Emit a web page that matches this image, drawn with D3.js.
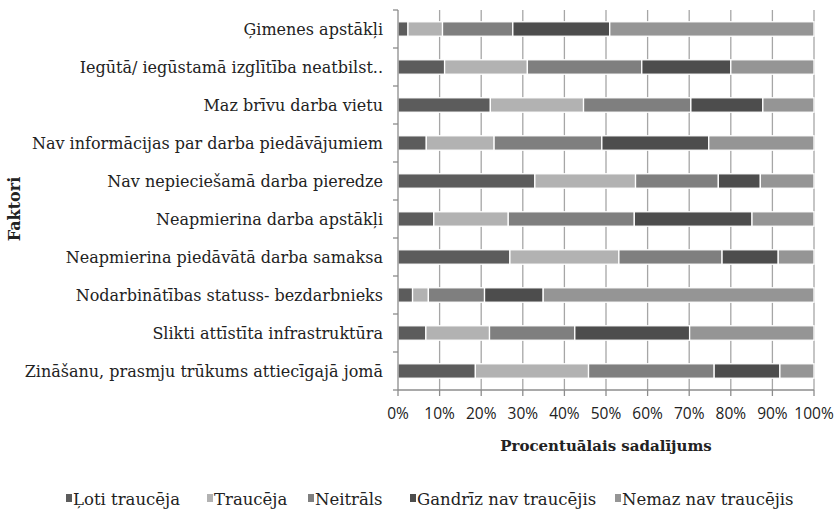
<!DOCTYPE html>
<html>
<head>
<meta charset="utf-8">
<script src="https://cdn.jsdelivr.net/npm/d3@7"></script>
<style>
  body { margin: 0; background: #fff; }
  svg { display: block; }
</style>
</head>
<body>
<svg width="839" height="510"></svg>
<script>
// categories, top to bottom
var factors = [
  "Ģimenes apstākļi",
  "Iegūtā/ iegūstamā izglītība neatbilst..",
  "Maz brīvu darba vietu",
  "Nav informācijas par darba piedāvājumiem",
  "Nav nepieciešamā darba pieredze",
  "Neapmierina darba apstākļi",
  "Neapmierina piedāvātā darba samaksa",
  "Nodarbinātības statuss- bezdarbnieks",
  "Slikti attīstīta infrastruktūra",
  "Zināšanu, prasmju trūkums attiecīgajā jomā"
];

var seriesNames = ["Ļoti traucēja", "Traucēja", "Neitrāls", "Gandrīz nav traucējis", "Nemaz nav traucējis"];
var seriesColors = ["#5c5c5c", "#b2b2b2", "#7f7f7f", "#4d4d4d", "#959595"];

// percent per factor, same order as factors
var lotiTrauceja   = [2.4, 11.2, 22.2, 6.8, 32.9, 8.6, 26.9, 3.5, 6.7, 18.6];
var trauceja       = [8.3, 19.9, 22.4, 16.3, 24.2, 17.9, 26.2, 3.8, 15.3, 27.2];
var neitrals       = [16.9, 27.5, 25.8, 25.9, 19.9, 30.3, 24.8, 13.5, 20.5, 30.2];
var gandrizNav     = [23.3, 21.4, 17.3, 25.7, 10.1, 28.3, 13.5, 14.1, 27.6, 15.8];
var nemazNav       = [49.1, 20.0, 12.3, 25.3, 12.9, 14.9, 8.6, 65.1, 29.9, 8.2];

var xTicks = [0, 10, 20, 30, 40, 50, 60, 70, 80, 90, 100];

var svg = d3.select("svg");
var mLeft = 398, mRight = 814, mTop = 10, mBottom = 390;
var serif = "'DejaVu Serif', 'Liberation Serif', serif";

var rows = factors.map(function(f, i) {
  var vals = [lotiTrauceja[i], trauceja[i], neitrals[i], gandrizNav[i], nemazNav[i]];
  var tot = d3.sum(vals);
  var o = { factor: f };
  vals.forEach(function(v, j) { o["s" + j] = v / tot * 100; });
  return o;
});

var keys = seriesNames.map(function(d, j) { return "s" + j; });
var stacked = d3.stack().keys(keys)(rows);

var x = d3.scaleLinear().domain([0, 100]).range([mLeft, mRight]);
var y = d3.scaleBand().domain(factors).range([mTop, mBottom]).paddingInner(0.62).paddingOuter(0.31);
var yb = d3.scaleBand().domain(factors).range([mTop, mBottom]);

// gridlines
svg.append("g")
  .selectAll("line")
  .data(xTicks.slice(1))
  .enter().append("line")
  .attr("x1", function(d) { return x(d); })
  .attr("x2", function(d) { return x(d); })
  .attr("y1", mTop)
  .attr("y2", mBottom)
  .attr("stroke", "#a6a6a6")
  .attr("stroke-width", 1.3);

// bars
svg.append("g")
  .selectAll("g")
  .data(stacked)
  .enter().append("g")
  .attr("fill", function(d, i) { return seriesColors[i]; })
  .selectAll("rect")
  .data(function(d) { return d; })
  .enter().append("rect")
  .attr("x", function(d) { return x(d[0]); })
  .attr("y", function(d) { return y(d.data.factor); })
  .attr("width", function(d) { return x(d[1]) - x(d[0]); })
  .attr("height", y.bandwidth())
  .attr("stroke", "#fff")
  .attr("stroke-width", 1.3);

// left axis
var yAxis = svg.append("g").attr("transform", "translate(" + mLeft + ",0)");
yAxis.append("line").attr("y1", mTop).attr("y2", mBottom).attr("stroke", "#8c8c8c").attr("stroke-width", 1.3);
yAxis.selectAll(".tk")
  .data(factors.concat(["end"]))
  .enter().append("line")
  .attr("x1", -5).attr("x2", 0)
  .attr("y1", function(d, i) { return mTop + i * yb.bandwidth(); })
  .attr("y2", function(d, i) { return mTop + i * yb.bandwidth(); })
  .attr("stroke", "#8c8c8c").attr("stroke-width", 1.3);
yAxis.selectAll("text")
  .data(factors)
  .enter().append("text")
  .attr("x", -15)
  .attr("y", function(d) { return yb(d) + yb.bandwidth() / 2; })
  .attr("dy", "0.35em")
  .attr("text-anchor", "end")
  .attr("font-family", serif)
  .attr("font-size", "16px")
  .attr("fill", "#222")
  .text(function(d) { return d; });

// bottom axis
var xAxis = svg.append("g").attr("transform", "translate(0," + mBottom + ")");
xAxis.append("line").attr("x1", mLeft).attr("x2", mRight).attr("stroke", "#8c8c8c").attr("stroke-width", 1.3);
xAxis.selectAll(".tk")
  .data(xTicks)
  .enter().append("line")
  .attr("x1", function(d) { return x(d); }).attr("x2", function(d) { return x(d); })
  .attr("y1", 0).attr("y2", 6)
  .attr("stroke", "#8c8c8c").attr("stroke-width", 1.3);
xAxis.selectAll("text")
  .data(xTicks)
  .enter().append("text")
  .attr("x", function(d) { return x(d); })
  .attr("y", 29)
  .attr("text-anchor", "middle")
  .attr("font-family", "'Open Sans', 'DejaVu Sans', sans-serif")
  .attr("font-size", "15.5px")
  .attr("fill", "#222")
  .text(function(d) { return d + "%"; });

// axis titles
svg.append("text")
  .attr("x", (mLeft + mRight) / 2)
  .attr("y", 451)
  .attr("text-anchor", "middle")
  .attr("font-family", serif)
  .attr("font-weight", "bold")
  .attr("font-size", "15px")
  .attr("fill", "#222")
  .text("Procentuālais sadalījums");

svg.append("text")
  .attr("transform", "translate(20,209) rotate(-90)")
  .attr("text-anchor", "middle")
  .attr("font-family", serif)
  .attr("font-weight", "bold")
  .attr("font-size", "16px")
  .attr("fill", "#222")
  .text("Faktori");

// legend
var legendX = [66, 207, 308, 410, 615];
var lg = svg.append("g")
  .selectAll("g")
  .data(seriesNames)
  .enter().append("g")
  .attr("transform", function(d, i) { return "translate(" + legendX[i] + ",499)"; });
lg.append("rect")
  .attr("x", 0).attr("y", -5)
  .attr("width", 6).attr("height", 8)
  .attr("fill", function(d, i) { return seriesColors[i]; });
lg.append("text")
  .attr("x", 7)
  .attr("y", 0)
  .attr("dy", "0.35em")
  .attr("font-family", serif)
  .attr("font-size", "16.5px")
  .attr("fill", "#222")
  .text(function(d) { return d; });
</script>
</body>
</html>
